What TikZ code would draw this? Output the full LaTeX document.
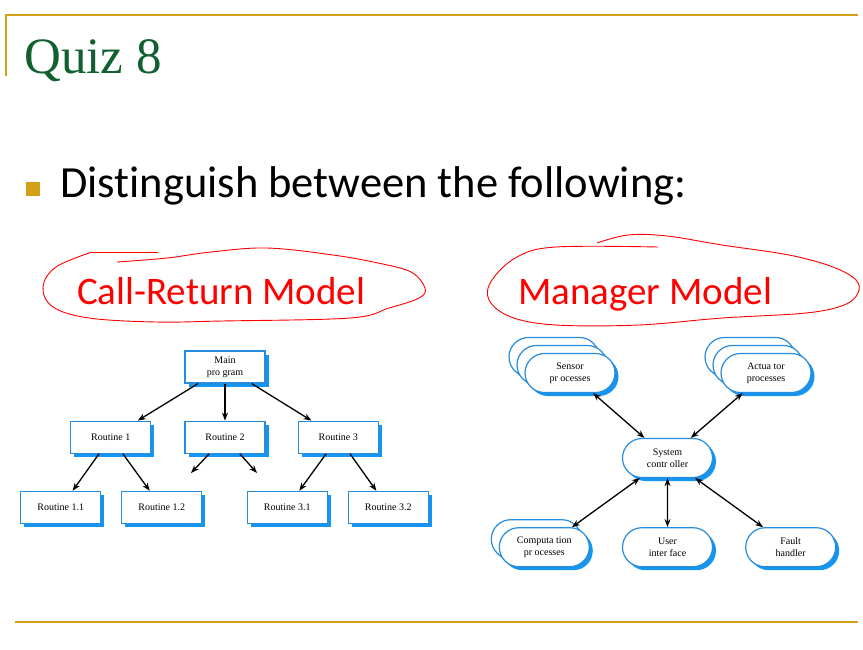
\documentclass[tikz,border=0pt]{standalone}
\usepackage{fontspec}
\setmainfont{Liberation Serif}
\newfontfamily\slidefont[Ligatures={NoCommon}]{Carlito}
\usepackage{xcolor}
\usetikzlibrary{positioning,shapes.misc,shadows,arrows.meta}

\definecolor{slidegold}{RGB}{212,160,23}
\definecolor{titlegreen}{RGB}{16,96,48}
\definecolor{boxline}{RGB}{40,140,220}
\definecolor{boxshade}{RGB}{20,150,240}

\begin{document}
\begin{tikzpicture}[
        x=1pt, y=-1pt,
        box/.style={rectangle, draw=boxline, line width=1.2pt, fill=white,
            minimum width=80pt, minimum height=32pt, inner sep=1pt, align=center,
            font=\fontsize{10}{12}\selectfont,
            drop shadow={shadow xshift=3.5pt, shadow yshift=-3.5pt, fill=boxshade, opacity=1}},
        proc/.style={rounded rectangle, draw=boxline, line width=1.2pt, fill=white,
            minimum width=92pt, minimum height=39pt, inner sep=1pt, align=center,
            font=\fontsize{10}{12}\selectfont,
            drop shadow={shadow xshift=3.5pt, shadow yshift=-3.5pt, fill=boxshade, opacity=1}},
        call/.style={-{Stealth[length=8pt,width=6pt]}, line width=1.3pt},
        link/.style={{Stealth[length=8pt,width=6pt]}-{Stealth[length=8pt,width=6pt]}, line width=1.3pt},
        ring/.style={red, line width=0.9pt}
    ]
        \useasboundingbox (0,0) rectangle (863,649);

        % slide frame
        \draw[slidegold, line width=2pt] (6,76) -- (6,15) -- (858,15);
        \draw[slidegold, line width=2pt] (15,622) -- (858,622);
        \node[anchor=base west, inner sep=0, text=titlegreen, font=\fontsize{51}{51}\selectfont] (title) at (24,73) {Quiz 8};
        \fill[slidegold] (26,182) rectangle (40,196);
        \node[anchor=base west, inner sep=0, font=\slidefont\fontsize{44.5}{44.5}\selectfont] (task) at (60,197) {Distinguish between the following:};

        % headings with hand-drawn rings
        \node[anchor=base west, inner sep=0, text=red, font=\slidefont\fontsize{39}{39}\selectfont] (crm) at (77,304) {Call-Return Model};
        \node[anchor=base west, inner sep=0, text=red, font=\slidefont\fontsize{39}{39}\selectfont] (mgm) at (518,304) {Manager Model};
        \draw[ring] plot[smooth, tension=0.6] coordinates {(92,252) (56,267) (43,287) (53,307) (89,318) (156,322) (222,321) (350,318) (389,308) (419,298) (425,288) (411,272) (378,263) (333,255) (267,248) (211,252) (167,258) (117,262)};
        \draw[ring] (92,252) -- (158,252);
        \draw[ring] plot[smooth, tension=0.6] coordinates {(597,243) (628,235) (667,236) (722,245) (789,255) (833,267) (856,280) (858,293) (844,305) (806,313) (722,318) (639,325) (556,325) (511,317) (489,300) (492,280) (517,257) (556,247) (658,247)};

        % call-return model
        \node[box] (main) at (225,367) {Main\\pro gram};
        \node[box, below=37pt of main] (r2) {Routine 2};
        \node[box, left=33pt of r2] (r1) {Routine 1};
        \node[box, right=32pt of r2] (r3) {Routine 3};
        \node[box, below=37pt of r1, xshift=-50pt] (r11) {Routine 1.1};
        \node[box, below=37pt of r1, xshift=51pt] (r12) {Routine 1.2};
        \node[box, below=37pt of r3, xshift=-51pt] (r31) {Routine 3.1};
        \node[box, below=37pt of r3, xshift=50pt] (r32) {Routine 3.2};
        \coordinate (r2l) at (191,473);
        \coordinate (r2r) at (257,473);

        \draw[call] (main) -- (r1);
        \draw[call] (main) -- (r2);
        \draw[call] (main) -- (r3);
        \draw[call] (r1) -- (r11);
        \draw[call] (r1) -- (r12);
        \draw[call] (r2) -- (r2l);
        \draw[call] (r2) -- (r2r);
        \draw[call] (r3) -- (r31);
        \draw[call] (r3) -- (r32);

        % manager model
        \node[proc] (ctrl) at (667.5,458) {System\\contr oller};
        \node[proc] at (554,357) {};
        \node[proc] at (562,365) {};
        \node[proc] (sensor) at (570,373) {Sensor\\pr ocesses};
        \node[proc] at (750,357) {};
        \node[proc] at (758,365) {};
        \node[proc] (act) at (766,373) {Actua tor\\processes};
        \node[proc, below=49pt of ctrl] (user) {User\\inter face};
        \node[proc, right=32pt of user] (fault) {Fault\\handler};
        \node[proc, left=32pt of user, xshift=-8pt, yshift=8pt] {};
        \node[proc, left=32pt of user] (comp) {Computa tion\\pr ocesses};

        \draw[link] (sensor) -- (ctrl);
        \draw[link] (act) -- (ctrl);
        \draw[link] (ctrl) -- (comp);
        \draw[link] (ctrl) -- (user);
        \draw[link] (ctrl) -- (fault);
    \end{tikzpicture}
\end{document}
